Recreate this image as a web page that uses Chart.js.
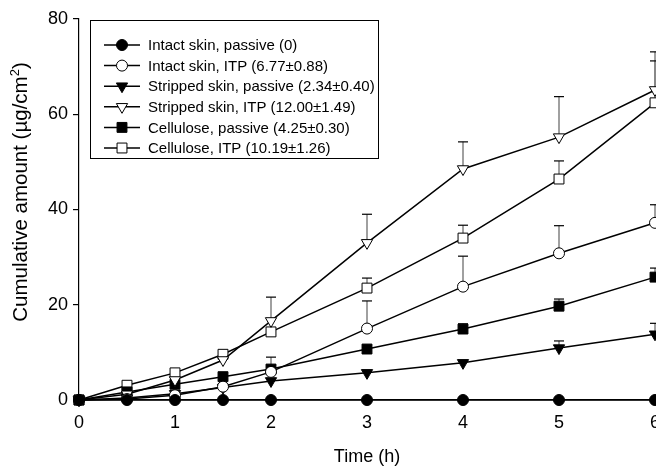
<!DOCTYPE html>
<html>
<head>
<meta charset="utf-8">
<script src="https://cdn.jsdelivr.net/npm/chart.js@4"></script>
<style>
  html, body { margin: 0; padding: 0; background: white; }
  #wrap { width: 656px; height: 468px; overflow: hidden; position: relative; }
  canvas { position: absolute; left: 0; top: 0; }
</style>
</head>
<body>
<div id="wrap"><canvas id="myChart" width="700" height="468"></canvas></div>
<script>
// DATA: time points (h) and cumulative amounts (ug/cm2), upper SD
const timeH = [0, 0.5, 1, 1.5, 2, 3, 4, 5, 6];

const intactPassive     = [0, 0, 0, 0, 0, 0, 0, 0, 0];
const intactPassiveSD   = [0, 0, 0, 0, 0, 0, 0, 0, 0];
const intactITP         = [0, 0.2, 1.0, 2.8, 5.9, 15.0, 23.8, 30.8, 37.2];
const intactITPSD       = [0, 0, 0, 0, 3.1, 5.8, 6.4, 5.8, 3.8];
const strippedPassive   = [0, 0.4, 1.3, 2.6, 4.0, 5.7, 7.8, 10.9, 13.8];
const strippedPassiveSD = [0, 0, 0, 0, 0, 0, 0.3, 1.5, 2.3];
const strippedITP       = [0, 1.2, 4.2, 8.4, 16.6, 33.0, 48.5, 55.2, 65.1];
const strippedITPSD     = [0, 0, 0, 0, 5.0, 6.0, 5.7, 8.5, 8.0];
const cellPassive       = [0, 1.7, 3.3, 4.9, 6.5, 10.7, 14.9, 19.7, 25.8];
const cellPassiveSD     = [0, 0, 0, 0, 0, 0.3, 1.1, 1.5, 1.9];
const cellITP           = [0, 3.1, 5.7, 9.6, 14.3, 23.5, 34.0, 46.4, 62.4];
const cellITPSD         = [0, 0, 0, 0, 0, 2.1, 2.7, 3.8, 8.8];

const seriesLabels = [
  'Intact skin, passive (0)',
  'Intact skin, ITP (6.77±0.88)',
  'Stripped skin, passive (2.34±0.40)',
  'Stripped skin, ITP (12.00±1.49)',
  'Cellulose, passive (4.25±0.30)',
  'Cellulose, ITP (10.19±1.26)'
];
const xTicks = [0, 1, 2, 3, 4, 5, 6];
const yTicks = [0, 20, 40, 60, 80];
const yTitle = ['Cumulative amount (µg/cm', '2', ')'];

const FONT = "'Liberation Sans', Arial, sans-serif";

function pts(ys) {
  return timeH.map((t, i) => ({ x: t, y: ys[i] }));
}

function makeSet(label, ys, sd, style, fill, radius, rotation) {
  return {
    label: label,
    data: pts(ys),
    sd: sd,
    borderColor: 'black',
    borderWidth: 1.5,
    pointStyle: style,
    pointRotation: rotation || 0,
    pointRadius: radius,
    pointHoverRadius: radius,
    pointBackgroundColor: fill,
    pointBorderColor: 'black',
    pointBorderWidth: 1,
    tension: 0,
    fill: false,
    clip: false
  };
}

// error bars (upper only), drawn under the markers
const errorBars = {
  id: 'errorBars',
  beforeDatasetsDraw(chart) {
    const ctx = chart.ctx;
    const xs = chart.scales.x, ys = chart.scales.y;
    ctx.save();
    chart.data.datasets.forEach(ds => {
      ds.data.forEach((p, i) => {
        const sd = ds.sd[i];
        if (!sd) return;
        const px = xs.getPixelForValue(p.x);
        const y0 = ys.getPixelForValue(p.y);
        const y1 = ys.getPixelForValue(p.y + sd);
        ctx.strokeStyle = '#808080';
        ctx.lineWidth = 1.5;
        ctx.beginPath();
        ctx.moveTo(px, y0);
        ctx.lineTo(px, y1);
        ctx.stroke();
        ctx.strokeStyle = 'black';
        ctx.lineWidth = 1.2;
        ctx.beginPath();
        ctx.moveTo(px - 5, y1);
        ctx.lineTo(px + 5, y1);
        ctx.stroke();
      });
    });
    ctx.restore();
  }
};

// rotated y title with a raised small "2"
const yAxisTitle = {
  id: 'yAxisTitle',
  afterDraw(chart) {
    const ctx = chart.ctx;
    const big = '20.5px ' + FONT, small = '13px ' + FONT;
    ctx.save();
    ctx.font = big;
    const w1 = ctx.measureText(yTitle[0]).width;
    const w3 = ctx.measureText(yTitle[2]).width;
    ctx.font = small;
    const w2 = ctx.measureText(yTitle[1]).width;
    const total = w1 + w2 + w3;
    ctx.translate(27, 192);
    ctx.rotate(-Math.PI / 2);
    ctx.fillStyle = 'black';
    ctx.textBaseline = 'alphabetic';
    ctx.textAlign = 'left';
    let x = -total / 2;
    ctx.font = big;
    ctx.fillText(yTitle[0], x, 0);
    x += w1;
    ctx.font = small;
    ctx.fillText(yTitle[1], x, -8);
    x += w2;
    ctx.font = big;
    ctx.fillText(yTitle[2], x, 0);
    ctx.restore();
  }
};

// legend box inside the plot
const boxLegend = {
  id: 'boxLegend',
  afterDraw(chart) {
    const ctx = chart.ctx;
    ctx.save();
    ctx.strokeStyle = 'black';
    ctx.lineWidth = 1;
    ctx.strokeRect(90.5, 20.5, 288, 138);
    ctx.font = '15px ' + FONT;
    ctx.textBaseline = 'middle';
    chart.data.datasets.forEach((ds, i) => {
      const y = 45 + i * 20.6;
      ctx.strokeStyle = 'black';
      ctx.lineWidth = 1.5;
      ctx.beginPath();
      ctx.moveTo(104, y);
      ctx.lineTo(140, y);
      ctx.stroke();
      ctx.fillStyle = ds.pointBackgroundColor;
      ctx.strokeStyle = 'black';
      ctx.lineWidth = 1;
      Chart.helpers.drawPoint(ctx, {
        pointStyle: ds.pointStyle,
        rotation: ds.pointRotation,
        radius: ds.pointRadius,
        borderWidth: 1
      }, 122, y);
      ctx.fillStyle = 'black';
      ctx.fillText(ds.label, 148, y + 1);
    });
    ctx.restore();
  }
};

const ctx = document.getElementById('myChart').getContext('2d');

const myChart = new Chart(ctx, {
  type: 'line',
  data: {
    datasets: [
      makeSet(seriesLabels[0], intactPassive, intactPassiveSD, 'circle', 'black', 5.5),
      makeSet(seriesLabels[1], intactITP, intactITPSD, 'circle', 'white', 5.5),
      makeSet(seriesLabels[2], strippedPassive, strippedPassiveSD, 'triangle', 'black', 6.5, 180),
      makeSet(seriesLabels[3], strippedITP, strippedITPSD, 'triangle', 'white', 6.5, 180),
      makeSet(seriesLabels[4], cellPassive, cellPassiveSD, 'rect', 'black', 7),
      makeSet(seriesLabels[5], cellITP, cellITPSD, 'rect', 'white', 7)
    ]
  },
  options: {
    responsive: false,
    animation: false,
    devicePixelRatio: 1,
    layout: { padding: { top: 19, right: 45, bottom: 0, left: 0 } },
    plugins: {
      legend: { display: false },
      tooltip: { enabled: false }
    },
    scales: {
      x: {
        type: 'linear',
        min: 0,
        max: 6,
        afterBuildTicks: s => { s.ticks = xTicks.map(v => ({ value: v })); },
        afterFit: s => { s.height = 68; },
        grid: { display: false, drawTicks: false },
        border: { display: true, color: 'black', width: 1.2 },
        ticks: { color: 'black', padding: 12, font: { family: FONT, size: 18 } },
        title: {
          display: true,
          text: 'Time (h)',
          color: 'black',
          font: { family: FONT, size: 18 },
          padding: { top: 0, bottom: 0 }
        }
      },
      y: {
        min: 0,
        max: 80,
        afterBuildTicks: s => { s.ticks = yTicks.map(v => ({ value: v })); },
        afterFit: s => { s.width = 79; },
        grid: { drawOnChartArea: false, drawTicks: true, tickLength: 6, color: 'black', lineWidth: 1.2 },
        border: { display: true, color: 'black', width: 1.2 },
        ticks: { color: 'black', padding: 5, font: { family: FONT, size: 18 } },
        title: { display: false }
      }
    }
  },
  plugins: [errorBars, yAxisTitle, boxLegend]
});
</script>
</body>
</html>
